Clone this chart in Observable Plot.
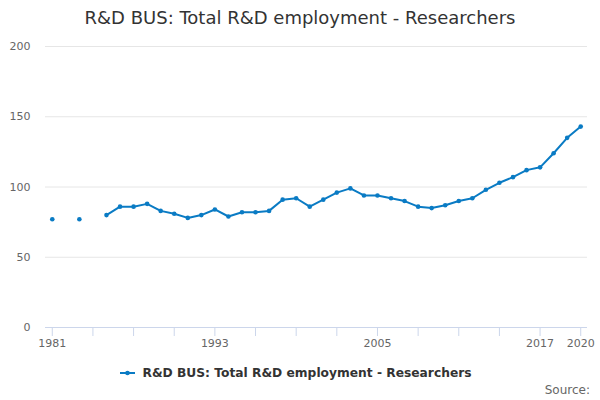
<!DOCTYPE html>
<html>
<head>
<meta charset="utf-8">
<script src="https://cdn.jsdelivr.net/npm/d3@7"></script>
<script src="https://cdn.jsdelivr.net/npm/@observablehq/plot@0.6"></script>
<style>
  html, body { margin: 0; padding: 0; background: #fff; }
  body { width: 600px; height: 400px; position: relative; overflow: hidden; font-family: "DejaVu Sans", sans-serif; }
  #title { position: absolute; top: 7px; left: 0; width: 600px; text-align: center; font-size: 18px; line-height: 21px; color: #333; }
  #chart { position: absolute; top: 36px; left: 0; }
  #legend { position: absolute; top: 366px; left: -4px; width: 600px; text-align: center; font-size: 12.25px; line-height: 14px; font-weight: bold; color: #333; white-space: nowrap; }
  #legend svg { vertical-align: 0px; margin-right: 7px; }
  #source { position: absolute; top: 383px; right: 10px; font-size: 12px; line-height: 14px; color: #666; }
</style>
</head>
<body>
<div id="title">R&amp;D BUS: Total R&amp;D employment - Researchers</div>
<div id="chart"></div>
<div id="legend"><svg width="15" height="8"><line x1="0" y1="4" x2="15" y2="4" stroke="#0a7bc4" stroke-width="2"/><circle cx="7.5" cy="4" r="2.3" fill="#0a7bc4"/></svg>R&amp;D BUS: Total R&amp;D employment - Researchers</div>
<div id="source">Source:</div>
<script>
const years = [1981,1982,1983,1984,1985,1986,1987,1988,1989,1990,1991,1992,1993,1994,1995,1996,1997,1998,1999,2000,2001,2002,2003,2004,2005,2006,2007,2008,2009,2010,2011,2012,2013,2014,2015,2016,2017,2018,2019,2020];
const researchers = [77,null,77,null,80,86,86,88,83,81,78,80,84,79,82,82,83,91,92,86,91,96,99,94,94,92,90,86,85,87,90,92,98,103,107,112,114,124,135,143];
const xTicks = [1981,1984,1987,1990,1993,1996,1999,2002,2005,2008,2011,2014,2017,2020];
const xLabels = [1981,1993,2005,2017,2020];
const yTicks = [0,50,100,150,200];

const data = years.map((y, i) => ({year: y, value: researchers[i]}));
const defined = data.filter(d => d.value != null);
const color = "#0a7bc4";

const chart = Plot.plot({
  width: 600,
  height: 320,
  marginTop: 10,
  marginLeft: 45,
  marginRight: 13,
  marginBottom: 29,
  style: {fontFamily: "DejaVu Sans, sans-serif", fontSize: "11px", color: "#666", background: "#fff"},
  x: {domain: [1980.5, 2020.5]},
  y: {domain: [0, 200]},
  marks: [
    Plot.gridY(yTicks, {stroke: "#e6e6e6", strokeOpacity: 1}),
    Plot.axisY({ticks: yTicks, tickSize: 0, tickPadding: 15, label: null, fill: "#666", fontSize: 11}),
    Plot.axisX({ticks: xTicks, tickSize: 9, tickPadding: 3, stroke: "#ccd6eb", strokeOpacity: 1, label: null, fill: "#666", fontSize: 11,
      tickFormat: d => xLabels.includes(d) ? String(d) : ""}),
    Plot.ruleY([0], {stroke: "#ccd6eb"}),
    Plot.line(data, {x: "year", y: "value", stroke: color, strokeWidth: 2, defined: d => d.value != null}),
    Plot.dot(defined, {x: "year", y: "value", fill: color, r: 2.3})
  ]
});
document.getElementById("chart").appendChild(chart);
</script>
</body>
</html>
